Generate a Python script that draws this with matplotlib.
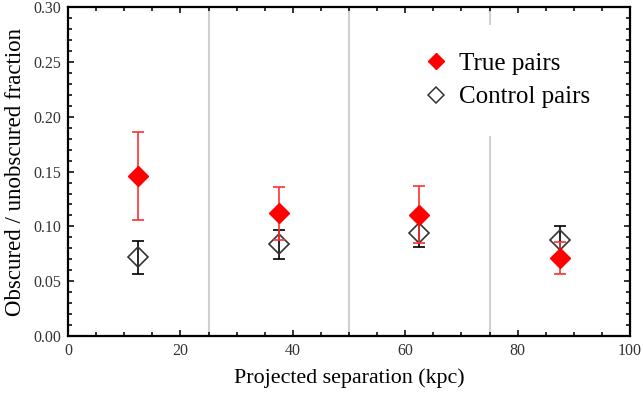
import matplotlib
matplotlib.use("Agg")
import matplotlib.pyplot as plt
from matplotlib.lines import Line2D
from matplotlib.ticker import MultipleLocator, FormatStrFormatter

plt.rcParams["font.family"] = ["Liberation Serif", "DejaVu Serif"]

# bin centres (kpc)
sep = [12.5, 37.5, 62.5, 87.5]

true_frac = [0.146, 0.1125, 0.110, 0.071]
true_lo = [0.040, 0.025, 0.0255, 0.0148]
true_hi = [0.040, 0.0235, 0.027, 0.015]

ctrl_frac = [0.0717, 0.0836, 0.094, 0.0872]
ctrl_lo = [0.0155, 0.0136, 0.013, 0.013]
ctrl_hi = [0.0149, 0.0131, 0.013, 0.0128]

bin_edges = [25, 50, 75]

fig = plt.figure(figsize=(6.43, 3.94), dpi=100)
ax = fig.add_axes([0.1058, 0.147, 0.874, 0.835])

for b in bin_edges:
    ax.axvline(b, color="#d0d0d0", lw=1.5, zorder=0)

ax.errorbar(sep, ctrl_frac, yerr=[ctrl_lo, ctrl_hi], fmt="D", ms=10,
            mfc="none", mec="#333333", mew=1.2, ecolor="black", elinewidth=1.2,
            capsize=4, capthick=1.2, zorder=3)
ax.errorbar(sep, true_frac, yerr=[true_lo, true_hi], fmt="D", ms=10,
            mfc="red", mec="red", ecolor="#ff3030", elinewidth=1.2,
            capsize=4, capthick=1.2, zorder=4)

handles = [
    Line2D([], [], ls="none", marker="D", ms=8, mfc="red", mec="red"),
    Line2D([], [], ls="none", marker="D", ms=8, mfc="none", mec="#333333", mew=1.1),
]
leg = ax.legend(handles, ["True pairs", "Control pairs"], loc="center",
                bbox_to_anchor=(0.781, 0.778), fontsize=18, frameon=True,
                borderpad=1.1, handletextpad=0.45, labelspacing=0.45,
                handlelength=1.0)
leg.get_frame().set_edgecolor("none")
leg.get_frame().set_facecolor("white")
leg.get_frame().set_alpha(1)
leg.set_zorder(5)

ax.set_xlim(0, 100)
ax.set_ylim(0, 0.30)
ax.xaxis.set_major_locator(MultipleLocator(20))
ax.xaxis.set_minor_locator(MultipleLocator(5))
ax.yaxis.set_major_locator(MultipleLocator(0.05))
ax.yaxis.set_minor_locator(MultipleLocator(0.01))
ax.yaxis.set_major_formatter(FormatStrFormatter("%.2f"))
ax.tick_params(which="both", direction="in", top=True, right=True,
               labelsize=11.5, width=1.2, color="#111111",
               labelcolor="#333333", pad=5)
ax.tick_params(which="major", length=4.5)
ax.tick_params(which="minor", length=2.8)
for s in ax.spines.values():
    s.set_linewidth(1.6)

ax.set_xlabel("Projected separation (kpc)", fontsize=15.8, labelpad=7)
ax.set_ylabel("Obscured / unobscured fraction", fontsize=16.5, labelpad=5)

fig.savefig("out.png", dpi=100)
